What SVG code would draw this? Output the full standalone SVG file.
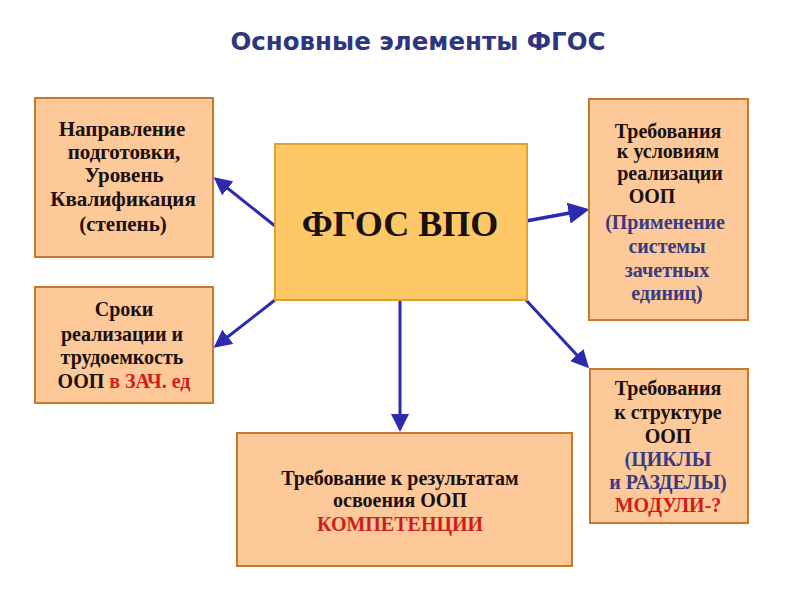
<svg xmlns="http://www.w3.org/2000/svg" width="800" height="600" viewBox="0 0 800 600">
<defs>
<marker id="ah" markerWidth="6" markerHeight="6" refX="5" refY="3" orient="auto" markerUnits="strokeWidth">
<path d="M0,0 L6,3 L0,6 z" fill="#2b2bb0"/>
</marker>
<style>
.box{fill:#fdc998;stroke:#c47a2c;stroke-width:2}
.main{fill:#fdc865;stroke:#e5a02f;stroke-width:2}
.t{font-family:"Liberation Serif","DejaVu Serif",serif;font-weight:bold;font-size:20px;fill:#1a1010;text-anchor:middle}
.big{font-size:21px}
.p{fill:#3a3a80}
.r{fill:#d01c1c}
.c{stroke:#2b2bb0;stroke-width:3;fill:none;marker-end:url(#ah)}
.title{font-family:"DejaVu Sans","Liberation Sans",sans-serif;font-weight:bold;font-size:24.5px;fill:#2e3680;text-anchor:middle}
</style>
</defs>
<rect width="800" height="600" fill="#ffffff"/>
<text class="title" x="418" y="50">Основные элементы ФГОС</text>
<g id="connectors">
<line class="c" x1="275" y1="226" x2="216" y2="179"/>
<line class="c" x1="526" y1="221" x2="586" y2="210" style="stroke-width:3.5"/>
<line class="c" x1="275" y1="300" x2="216" y2="346"/>
<line class="c" x1="526" y1="300" x2="587" y2="366"/>
<line class="c" x1="400" y1="300" x2="400" y2="429"/>
</g>
<g id="center">
<rect class="main" x="275" y="144" width="252" height="156"/>
<text class="t" x="400" y="236" style="font-size:36px">ФГОС ВПО</text>
</g>
<g id="n1">
<rect class="box" x="35" y="98" width="178" height="159"/>
<text class="t big" x="122" y="136">Направление</text>
<text class="t big" x="124" y="159">подготовки,</text>
<text class="t big" x="124" y="182">Уровень</text>
<text class="t big" x="123" y="206">Квалификация</text>
<text class="t big" x="123" y="231">(степень)</text>
</g>
<g id="n2">
<rect class="box" x="35" y="287" width="178" height="116"/>
<text class="t" x="124" y="316">Сроки</text>
<text class="t" x="122" y="341">реализации и</text>
<text class="t" x="122" y="364">трудоемкость</text>
<text class="t" x="124" y="388">ООП <tspan class="r">в ЗАЧ. ед</tspan></text>
</g>
<g id="n3">
<rect class="box" x="589" y="99" width="159" height="221"/>
<text class="t" x="668" y="138">Требования</text>
<text class="t" x="668" y="158">к условиям</text>
<text class="t" x="670" y="180">реализации</text>
<text class="t" x="652" y="203">ООП</text>
<text class="t p" x="665" y="229">(Применение</text>
<text class="t p" x="667" y="253">системы</text>
<text class="t p" x="667" y="277">зачетных</text>
<text class="t p" x="667" y="300">единиц)</text>
</g>
<g id="n4">
<rect class="box" x="590" y="369" width="158" height="154"/>
<text class="t" x="668" y="395">Требования</text>
<text class="t" x="668" y="419">к структуре</text>
<text class="t" x="668" y="443">ООП</text>
<text class="t p" x="668" y="466">(ЦИКЛЫ</text>
<text class="t p" x="668" y="489">и РАЗДЕЛЫ)</text>
<text class="t r" x="668" y="512">МОДУЛИ-?</text>
</g>
<g id="n5">
<rect class="box" x="237" y="433" width="335" height="133"/>
<text class="t" x="400" y="485">Требование к  результатам</text>
<text class="t" x="400" y="507">освоения ООП</text>
<text class="t r" x="400" y="531">КОМПЕТЕНЦИИ</text>
</g>
</svg>
